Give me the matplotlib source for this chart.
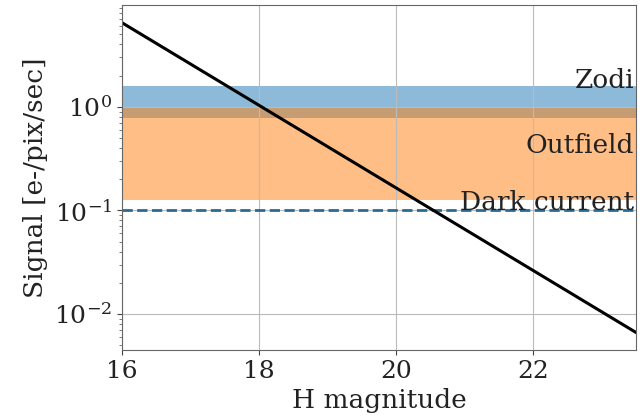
import numpy as np
import matplotlib.pyplot as plt

plt.rcParams['font.family'] = 'DejaVu Serif'
plt.rcParams['mathtext.fontset'] = 'dejavuserif'

h_mag = [16.0, 23.5]  # H magnitude end points of the source line
signal = [6.5, 0.0066]  # e-/pix/sec at those magnitudes

zodi_band = [0.78, 1.6]
outfield_band = [0.126, 1.0]
dark_current = 0.1

fig = plt.figure(figsize=(6.44, 4.18), dpi=100)
ax = fig.add_axes([0.189, 0.163, 0.799, 0.825])

ax.axhspan(zodi_band[0], zodi_band[1], color='C0', alpha=0.5, lw=0)
ax.axhspan(outfield_band[0], outfield_band[1], color='C1', alpha=0.5, lw=0)
ax.axhline(dark_current, color='#2b6a94', ls='--', lw=2)
ax.plot(h_mag, signal, color='k', lw=2.2)

ax.set_yscale('log')
ax.set_xlim(16, 23.5)
ax.set_ylim(0.0045, 9.6)
ax.set_xticks([16, 18, 20, 22])
ax.grid(True, color='#bbbbbb', lw=0.8)
for s in ax.spines.values():
    s.set_color('#666666')
ax.tick_params(colors='#444444', labelsize=18, labelcolor='#222222')
ax.tick_params(which='minor', colors='#666666')

ax.text(23.47, 1.53, 'Zodi', ha='right', va='baseline', fontsize=19, color='#222222')
ax.text(23.47, 0.36, 'Outfield', ha='right', va='baseline', fontsize=19, color='#222222')
ax.text(23.47, 0.101, 'Dark current', ha='right', va='baseline', fontsize=19, color='#222222')

ax.set_xlabel('H magnitude', fontsize=19, color='#222222')
ax.set_ylabel('Signal [e-/pix/sec]', fontsize=19, color='#222222')

fig.savefig('out.png', dpi=100)
